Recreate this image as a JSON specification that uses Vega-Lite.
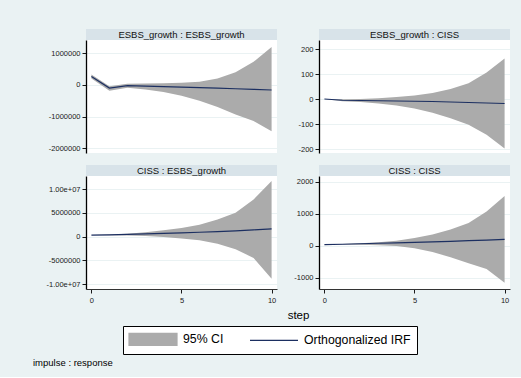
{
  "$schema": "https://vega.github.io/schema/vega-lite/v6.json",
  "background": "#eaf2f3",
  "padding": {"left": 33, "top": 29, "right": 11, "bottom": 10},
  "title": {"text": "impulse : response", "orient": "bottom", "anchor": "start", "dx": -13, "offset": 3, "fontSize": 9.5, "font": "Liberation Sans", "fontWeight": "normal", "color": "#000"},
  "data": {"values": [
    {"panel": "ESBS_growth : ESBS_growth", "step": 0, "irf": 265000, "lo": 200000, "hi": 330000},
    {"panel": "ESBS_growth : ESBS_growth", "step": 1, "irf": -100000, "lo": -180000, "hi": -40000},
    {"panel": "ESBS_growth : ESBS_growth", "step": 2, "irf": -20000, "lo": -90000, "hi": 40000},
    {"panel": "ESBS_growth : ESBS_growth", "step": 3, "irf": -40000, "lo": -140000, "hi": 45000},
    {"panel": "ESBS_growth : ESBS_growth", "step": 4, "irf": -55000, "lo": -220000, "hi": 50000},
    {"panel": "ESBS_growth : ESBS_growth", "step": 5, "irf": -70000, "lo": -340000, "hi": 70000},
    {"panel": "ESBS_growth : ESBS_growth", "step": 6, "irf": -85000, "lo": -500000, "hi": 100000},
    {"panel": "ESBS_growth : ESBS_growth", "step": 7, "irf": -100000, "lo": -700000, "hi": 200000},
    {"panel": "ESBS_growth : ESBS_growth", "step": 8, "irf": -120000, "lo": -930000, "hi": 400000},
    {"panel": "ESBS_growth : ESBS_growth", "step": 9, "irf": -140000, "lo": -1140000, "hi": 730000},
    {"panel": "ESBS_growth : ESBS_growth", "step": 10, "irf": -160000, "lo": -1460000, "hi": 1200000},
    {"panel": "ESBS_growth : CISS", "step": 0, "irf": 0, "lo": 0, "hi": 0},
    {"panel": "ESBS_growth : CISS", "step": 1, "irf": -5, "lo": -9, "hi": -1},
    {"panel": "ESBS_growth : CISS", "step": 2, "irf": -6, "lo": -12, "hi": 0},
    {"panel": "ESBS_growth : CISS", "step": 3, "irf": -7, "lo": -18, "hi": 3},
    {"panel": "ESBS_growth : CISS", "step": 4, "irf": -8, "lo": -26, "hi": 8},
    {"panel": "ESBS_growth : CISS", "step": 5, "irf": -9, "lo": -38, "hi": 14},
    {"panel": "ESBS_growth : CISS", "step": 6, "irf": -10, "lo": -55, "hi": 24},
    {"panel": "ESBS_growth : CISS", "step": 7, "irf": -12, "lo": -77, "hi": 40},
    {"panel": "ESBS_growth : CISS", "step": 8, "irf": -14, "lo": -103, "hi": 63},
    {"panel": "ESBS_growth : CISS", "step": 9, "irf": -16, "lo": -143, "hi": 106},
    {"panel": "ESBS_growth : CISS", "step": 10, "irf": -18, "lo": -198, "hi": 162},
    {"panel": "CISS : ESBS_growth", "step": 0, "irf": 300000, "lo": 300000, "hi": 300000},
    {"panel": "CISS : ESBS_growth", "step": 1, "irf": 350000, "lo": 250000, "hi": 450000},
    {"panel": "CISS : ESBS_growth", "step": 2, "irf": 450000, "lo": 200000, "hi": 600000},
    {"panel": "CISS : ESBS_growth", "step": 3, "irf": 550000, "lo": 100000, "hi": 900000},
    {"panel": "CISS : ESBS_growth", "step": 4, "irf": 650000, "lo": -100000, "hi": 1300000},
    {"panel": "CISS : ESBS_growth", "step": 5, "irf": 750000, "lo": -400000, "hi": 1800000},
    {"panel": "CISS : ESBS_growth", "step": 6, "irf": 900000, "lo": -800000, "hi": 2500000},
    {"panel": "CISS : ESBS_growth", "step": 7, "irf": 1050000, "lo": -1500000, "hi": 3600000},
    {"panel": "CISS : ESBS_growth", "step": 8, "irf": 1200000, "lo": -2700000, "hi": 5000000},
    {"panel": "CISS : ESBS_growth", "step": 9, "irf": 1400000, "lo": -4500000, "hi": 7800000},
    {"panel": "CISS : ESBS_growth", "step": 10, "irf": 1600000, "lo": -8900000, "hi": 11700000},
    {"panel": "CISS : CISS", "step": 0, "irf": 40, "lo": 40, "hi": 40},
    {"panel": "CISS : CISS", "step": 1, "irf": 55, "lo": 45, "hi": 60},
    {"panel": "CISS : CISS", "step": 2, "irf": 70, "lo": 40, "hi": 85},
    {"panel": "CISS : CISS", "step": 3, "irf": 85, "lo": 25, "hi": 120},
    {"panel": "CISS : CISS", "step": 4, "irf": 100, "lo": 0, "hi": 165},
    {"panel": "CISS : CISS", "step": 5, "irf": 115, "lo": -70, "hi": 250},
    {"panel": "CISS : CISS", "step": 6, "irf": 130, "lo": -190, "hi": 360},
    {"panel": "CISS : CISS", "step": 7, "irf": 145, "lo": -350, "hi": 515},
    {"panel": "CISS : CISS", "step": 8, "irf": 165, "lo": -540, "hi": 720},
    {"panel": "CISS : CISS", "step": 9, "irf": 185, "lo": -720, "hi": 1080},
    {"panel": "CISS : CISS", "step": 10, "irf": 205, "lo": -1150, "hi": 1565}
  ]},
  "columns": 2,
  "spacing": {"row": 0, "column": 10},
  "resolve": {"scale": {"color": "shared"}, "legend": {"color": "shared"}},
  "concat": [
    {
      "width": 191, "height": 11,
      "view": {"fill": "#d8e3e9", "stroke": null},
      "transform": [{"filter": "datum.panel === 'ESBS_growth : ESBS_growth' && datum.step === 0"}],
      "mark": {"type": "text", "fontSize": 9.5, "font": "Liberation Sans", "color": "#111", "baseline": "middle"},
      "encoding": {"text": {"field": "panel"}}
    },
    {
      "width": 191, "height": 11,
      "view": {"fill": "#d8e3e9", "stroke": null},
      "transform": [{"filter": "datum.panel === 'ESBS_growth : CISS' && datum.step === 0"}],
      "mark": {"type": "text", "fontSize": 9.5, "font": "Liberation Sans", "color": "#111", "baseline": "middle"},
      "encoding": {"text": {"field": "panel"}}
    },
    {
      "width": 191, "height": 113,
      "view": {"fill": "white", "stroke": null},
      "transform": [{"filter": "datum.panel === 'ESBS_growth : ESBS_growth'"}],
      "encoding": {
        "x": {"field": "step", "type": "quantitative", "scale": {"domain": [-0.3, 10.3], "nice": false, "zero": false},
              "axis": {"labels": false, "ticks": false, "domain": false, "grid": false, "title": null, "minExtent": 12, "maxExtent": 12}}
      },
      "layer": [
        {
          "mark": {"type": "area"},
          "encoding": {
            "y": {"field": "hi", "type": "quantitative", "scale": {"domain": [-2150000, 1420000], "nice": false, "zero": false},
                  "axis": {"values": [-2000000, -1000000, 0, 1000000], "title": null, "labelExpr": "datum.value < 0 ? '-' + format(-datum.value, 'd') : format(datum.value, 'd')"}},
            "y2": {"field": "lo"},
            "color": {"datum": "95% CI", "scale": {"domain": ["95% CI", "Orthogonalized IRF"], "range": ["#ababab", "#1c2f61"]},
                      "legend": {"orient": "none", "legendX": 37, "legendY": 297, "direction": "horizontal", "title": null,
                                 "fillColor": "white", "strokeColor": "#000", "padding": 6, "labelFont": "Liberation Sans", "labelFontSize": 12.3,
                                 "labelColor": "#000", "symbolSize": 144, "columnPadding": 23, "labelOffset": 40,
                                 "encode": {"symbols": {"update": {
                                   "shape": {"signal": "datum.value === '95% CI' ? 'M-4,-1H4V1H-4Z' : 'M-4,0H4'"},
                                   "x": {"value": 24},
                                   "fill": {"signal": "datum.value === '95% CI' ? '#ababab' : 'transparent'"},
                                   "stroke": {"signal": "datum.value === '95% CI' ? '#a0a0a0' : '#1c2f61'"},
                                   "strokeWidth": {"value": 1.2},
                                   "opacity": {"value": 1}
                                 }}}}}
          }
        },
        {
          "mark": {"type": "line", "strokeWidth": 1.2},
          "encoding": {
            "y": {"field": "irf", "type": "quantitative",
                  "axis": {"values": [-2000000, -1000000, 0, 1000000], "title": null, "labelExpr": "datum.value < 0 ? '-' + format(-datum.value, 'd') : format(datum.value, 'd')"}},
            "color": {"datum": "Orthogonalized IRF"}
          }
        }
      ]
    },
    {
      "width": 191, "height": 113,
      "view": {"fill": "white", "stroke": null},
      "transform": [{"filter": "datum.panel === 'ESBS_growth : CISS'"}],
      "encoding": {
        "x": {"field": "step", "type": "quantitative", "scale": {"domain": [-0.3, 10.3], "nice": false, "zero": false},
              "axis": {"labels": false, "ticks": false, "domain": false, "grid": false, "title": null, "minExtent": 12, "maxExtent": 12}}
      },
      "layer": [
        {
          "mark": {"type": "area", "color": "#ababab"},
          "encoding": {
            "y": {"field": "hi", "type": "quantitative", "scale": {"domain": [-216, 236], "nice": false, "zero": false},
                  "axis": {"values": [-200, -100, 0, 100, 200], "title": null, "labelExpr": "datum.value < 0 ? '-' + format(-datum.value, 'd') : format(datum.value, 'd')"}},
            "y2": {"field": "lo"}
          }
        },
        {
          "mark": {"type": "line", "strokeWidth": 1.2, "color": "#1c2f61"},
          "encoding": {
            "y": {"field": "irf", "type": "quantitative",
                  "axis": {"values": [-200, -100, 0, 100, 200], "title": null, "labelExpr": "datum.value < 0 ? '-' + format(-datum.value, 'd') : format(datum.value, 'd')"}}
          }
        }
      ]
    },
    {
      "width": 191, "height": 11,
      "view": {"fill": "#d8e3e9", "stroke": null},
      "transform": [{"filter": "datum.panel === 'CISS : ESBS_growth' && datum.step === 0"}],
      "mark": {"type": "text", "fontSize": 9.5, "font": "Liberation Sans", "color": "#111", "baseline": "middle"},
      "encoding": {"text": {"field": "panel"}}
    },
    {
      "width": 191, "height": 11,
      "view": {"fill": "#d8e3e9", "stroke": null},
      "transform": [{"filter": "datum.panel === 'CISS : CISS' && datum.step === 0"}],
      "mark": {"type": "text", "fontSize": 9.5, "font": "Liberation Sans", "color": "#111", "baseline": "middle"},
      "encoding": {"text": {"field": "panel"}}
    },
    {
      "width": 191, "height": 113,
      "view": {"fill": "white", "stroke": null},
      "transform": [{"filter": "datum.panel === 'CISS : ESBS_growth'"}],
      "encoding": {
        "x": {"field": "step", "type": "quantitative", "scale": {"domain": [-0.3, 10.3], "nice": false, "zero": false},
              "axis": {"values": [0, 5, 10], "grid": false, "title": null, "domainWidth": 1, "domainColor": "#333", "labelPadding": 3}}
      },
      "layer": [
        {
          "mark": {"type": "area", "color": "#ababab"},
          "encoding": {
            "y": {"field": "hi", "type": "quantitative", "scale": {"domain": [-11050000, 12740000], "nice": false, "zero": false},
                  "axis": {"values": [-10000000, -5000000, 0, 5000000, 10000000], "title": null, "labelExpr": "datum.value >= 10000000 ? '1.00e+07' : datum.value <= -10000000 ? '-1.00e+07' : datum.value < 0 ? '-' + format(-datum.value, 'd') : format(datum.value, 'd')"}},
            "y2": {"field": "lo"}
          }
        },
        {
          "mark": {"type": "line", "strokeWidth": 1.2, "color": "#1c2f61"},
          "encoding": {
            "y": {"field": "irf", "type": "quantitative",
                  "axis": {"values": [-10000000, -5000000, 0, 5000000, 10000000], "title": null, "labelExpr": "datum.value >= 10000000 ? '1.00e+07' : datum.value <= -10000000 ? '-1.00e+07' : datum.value < 0 ? '-' + format(-datum.value, 'd') : format(datum.value, 'd')"}}
          }
        }
      ]
    },
    {
      "width": 191, "height": 113,
      "view": {"fill": "white", "stroke": null},
      "transform": [{"filter": "datum.panel === 'CISS : CISS'"}],
      "encoding": {
        "x": {"field": "step", "type": "quantitative", "scale": {"domain": [-0.3, 10.3], "nice": false, "zero": false},
              "axis": {"values": [0, 5, 10], "grid": false, "title": "step", "titleX": -21, "titleY": 29, "titleAlign": "center", "titleBaseline": "alphabetic",
                       "titleFontSize": 11.5, "titleColor": "#000", "domainWidth": 1, "domainColor": "#333", "labelPadding": 3}}
      },
      "layer": [
        {
          "mark": {"type": "area", "color": "#ababab"},
          "encoding": {
            "y": {"field": "hi", "type": "quantitative", "scale": {"domain": [-1344, 2187], "nice": false, "zero": false},
                  "axis": {"values": [-1000, 0, 1000, 2000], "title": null, "labelExpr": "datum.value < 0 ? '-' + format(-datum.value, 'd') : format(datum.value, 'd')"}},
            "y2": {"field": "lo"}
          }
        },
        {
          "mark": {"type": "line", "strokeWidth": 1.2, "color": "#1c2f61"},
          "encoding": {
            "y": {"field": "irf", "type": "quantitative",
                  "axis": {"values": [-1000, 0, 1000, 2000], "title": null, "labelExpr": "datum.value < 0 ? '-' + format(-datum.value, 'd') : format(datum.value, 'd')"}}
          }
        }
      ]
    }
  ],
  "config": {
    "font": "Liberation Sans",
    "view": {"stroke": null},
    "axis": {"labelFont": "Liberation Sans", "labelFontSize": 7.5, "labelColor": "#1a1a1a", "tickColor": "#1a1a1a", "tickSize": 4, "tickWidth": 1,
             "domainColor": "#000", "domainWidth": 1.3, "gridColor": "#eaf2f3", "gridWidth": 1, "labelPadding": 2,
             "titleFont": "Liberation Sans", "titleFontWeight": "normal"},
    "axisX": {"grid": false}
  }
}
